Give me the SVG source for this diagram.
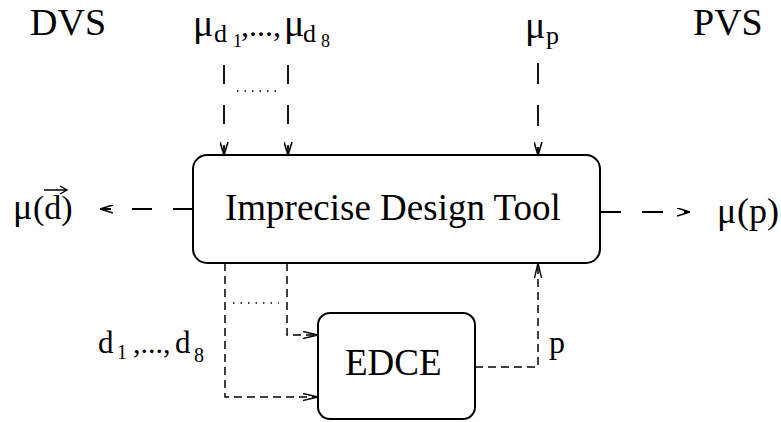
<svg xmlns="http://www.w3.org/2000/svg" width="781" height="422" viewBox="0 0 781 422">
<style>
.box{fill:#fff;stroke:#000;stroke-width:2}
.big{stroke:#000;stroke-width:1.8;fill:none;stroke-dasharray:19 21}
.small{stroke:#000;stroke-width:1.5;fill:none;stroke-dasharray:8 5}
.dot{stroke:#000;stroke-width:1.5;fill:none;stroke-dasharray:1.5 6}
</style>
<defs>
<marker id="ah" markerUnits="userSpaceOnUse" viewBox="0 0 13 9" refX="13" refY="4.5" markerWidth="13" markerHeight="9" orient="auto">
<path d="M0,0.5 L13,4.5 L0,8.5" fill="none" stroke="#000" stroke-width="1.6" stroke-dasharray="none"/>
</marker>
<marker id="as" markerUnits="userSpaceOnUse" viewBox="0 0 15 8" refX="15" refY="4" markerWidth="15" markerHeight="8" orient="auto">
<path d="M0,0.5 L15,4 L0,7.5" fill="none" stroke="#000" stroke-width="1.4" stroke-dasharray="none"/>
</marker>
</defs>

<g id="labels" font-family="Liberation Serif">
<text x="30" y="35" font-size="38" style="font-family:'Liberation Serif',serif">DVS</text>
<text x="693" y="35" font-size="38" style="font-family:'Liberation Serif',serif">PVS</text>
<text x="193" y="36" font-size="38" style="font-family:'Liberation Serif',serif">μ</text>
<text x="214" y="42" font-size="26" style="font-family:'Liberation Serif',serif">d</text>
<text x="233" y="47" font-size="18" style="font-family:'Liberation Serif',serif">1</text>
<text x="241" y="36" font-size="32" style="font-family:'Liberation Serif',serif">,...,</text>
<text x="284" y="36" font-size="38" style="font-family:'Liberation Serif',serif">μ</text>
<text x="303" y="42" font-size="26" style="font-family:'Liberation Serif',serif">d</text>
<text x="321" y="47" font-size="18" style="font-family:'Liberation Serif',serif">8</text>
<text x="525" y="38" font-size="38" style="font-family:'Liberation Serif',serif">μ</text>
<text x="546" y="44" font-size="26" style="font-family:'Liberation Serif',serif">p</text>
<text x="13" y="219" font-size="36" style="font-family:'Liberation Serif',serif">μ</text>
<text x="33" y="219" font-size="34" style="font-family:'Liberation Serif',serif">(d)</text>
<path d="M44,190 H67 M60,186 L67,190 L60,194" fill="none" stroke="#000" stroke-width="1.4"/>
<text x="717" y="223" font-size="36" style="font-family:'Liberation Serif',serif">μ</text>
<text x="737" y="223" font-size="36" style="font-family:'Liberation Serif',serif">(p)</text>
<text x="98" y="353" font-size="31" style="font-family:'Liberation Serif',serif">d</text>
<text x="117" y="359" font-size="20" style="font-family:'Liberation Serif',serif">1</text>
<text x="133" y="353" font-size="30" style="font-family:'Liberation Serif',serif">,...,</text>
<text x="175" y="353" font-size="31" style="font-family:'Liberation Serif',serif">d</text>
<text x="194" y="362" font-size="20" style="font-family:'Liberation Serif',serif">8</text>
<text x="549" y="353" font-size="32" style="font-family:'Liberation Serif',serif">p</text>
</g>

<g id="connectors">
<line class="big" x1="224" y1="65" x2="224" y2="155" marker-end="url(#ah)"/>
<line class="big" x1="288" y1="65" x2="288" y2="155" marker-end="url(#ah)"/>
<line class="dot" x1="237" y1="91" x2="281" y2="91"/>
<line class="big" x1="538" y1="63" x2="538" y2="155" style="stroke-dasharray:21 21" marker-end="url(#ah)"/>
<line class="big" x1="193" y1="209" x2="100" y2="209" style="stroke-dasharray:20 21" marker-end="url(#ah)"/>
<line class="big" x1="600" y1="212" x2="690" y2="212" style="stroke-dasharray:21 21" marker-end="url(#ah)"/>
<polyline class="small" points="225,263 225,397 318,397" marker-end="url(#as)"/>
<polyline class="small" points="287,263 287,335 318,335" marker-end="url(#as)"/>
<line class="dot" x1="233" y1="303" x2="279" y2="303"/>
<polyline class="small" points="475,367 538,367 538,263" marker-end="url(#as)"/>
</g>

<g id="imprecise-design-tool">
<rect class="box" x="193" y="155" width="407" height="108" rx="14"/>
<text x="225" y="220" font-size="37" style="font-family:'Liberation Serif',serif">Imprecise Design Tool</text>
</g>

<g id="edce">
<rect class="box" x="318" y="313" width="157" height="106" rx="12"/>
<text x="345" y="375" font-size="37" style="font-family:'Liberation Serif',serif">EDCE</text>
</g>
</svg>
